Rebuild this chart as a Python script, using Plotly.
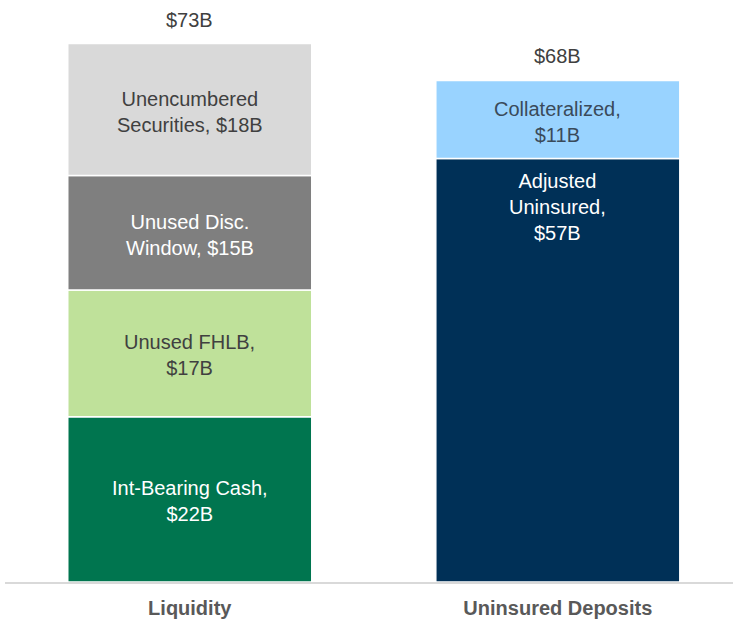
import plotly.graph_objects as go

categories = ["Liquidity", "Uninsured Deposits"]

# Liquidity components ($B), bottom to top
liq_names = ["Int-Bearing Cash,<br>$22B", "Unused FHLB,<br>$17B", "Unused Disc.<br>Window, $15B", "Unencumbered<br>Securities, $18B"]
liq_values = [22.4, 17.2, 15.5, 17.9]
liq_colors = ["#00754F", "#BFE19A", "#7F7F7F", "#D9D9D9"]
liq_text_colors = ["#FFFFFF", "#404040", "#FFFFFF", "#404040"]

# Uninsured deposit components ($B), bottom to top
dep_names = ["Adjusted<br>Uninsured,<br>$57B", "Collateralized,<br>$11B"]
dep_values = [57.4, 10.6]
dep_colors = ["#003057", "#99D3FF"]
dep_text_colors = ["#FFFFFF", "#3A4A5A"]

totals = ["$73B", "$68B"]

FONT = "Liberation Sans, Arial, sans-serif"
FS = 20
fig = go.Figure()
annotations = []

def add_stack(xpos, values, colors, names, tcolors, top_anchor_idx=None):
    base = 0
    for i, (v, c, n, tc) in enumerate(zip(values, colors, names, tcolors)):
        fig.add_trace(go.Bar(x=[xpos], y=[v], base=[base], width=0.663,
                             marker=dict(color=c, line=dict(color="white", width=1.5)),
                             hoverinfo="skip", showlegend=False))
        if i == top_anchor_idx:
            annotations.append(dict(x=xpos, y=base + v, text=n, showarrow=False,
                                    yanchor="top", yshift=-9,
                                    font=dict(family=FONT, size=FS, color=tc)))
        else:
            annotations.append(dict(x=xpos, y=base + v / 2, text=n, showarrow=False,
                                    yanchor="middle", yshift=-2,
                                    font=dict(family=FONT, size=FS, color=tc)))
        base += v
    return base

t0 = add_stack(0, liq_values, liq_colors, liq_names, liq_text_colors)
t1 = add_stack(1, dep_values, dep_colors, dep_names, dep_text_colors, top_anchor_idx=0)

for xpos, tot, lab in [(0, t0, totals[0]), (1, t1, totals[1])]:
    annotations.append(dict(x=xpos, y=tot, text=lab, showarrow=False, yanchor="bottom",
                            yshift=11, font=dict(family=FONT, size=FS, color="#404040")))

fig.update_layout(
    width=733, height=622,
    margin=dict(l=5, r=0, t=0, b=40),
    paper_bgcolor="white", plot_bgcolor="white",
    barmode="overlay",
    annotations=annotations,
    xaxis=dict(range=[-0.502, 1.476], tickvals=[0, 1], ticktext=[f"<b>{c}</b>" for c in categories],
               tickfont=dict(family=FONT, size=FS, color="#595959"),
               showline=True, linecolor="#D9D9D9", linewidth=2, showgrid=False, zeroline=False,
               ticks="", ticklabelstandoff=7),
    yaxis=dict(range=[0, 78.9], visible=False, showgrid=False, zeroline=False),
)

fig.write_html("out.html", config={"displayModeBar": False},
               post_script="document.body.style.margin='0';document.body.style.overflow='hidden';")
